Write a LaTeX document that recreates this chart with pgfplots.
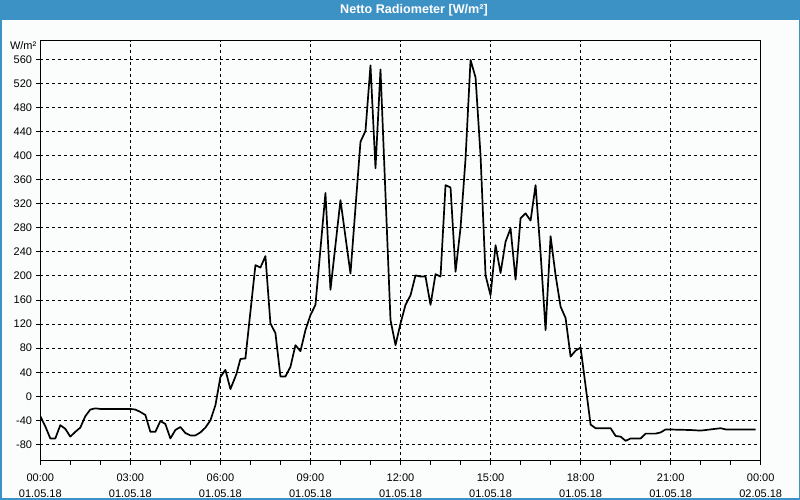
\documentclass[border=0pt]{standalone}
\usepackage{fontspec}
\setmainfont{Liberation Sans}
\usepackage{pgfplots}
\pgfplotsset{compat=1.18}
\definecolor{barblue}{RGB}{61,146,197}
\definecolor{bgc}{RGB}{251,253,252}
\begin{document}
\fontsize{11}{13}\selectfont
\begin{tikzpicture}
\fill[bgc] (0pt,0pt) rectangle (800pt,500pt);
\fill[barblue] (0pt,480pt) rectangle (800pt,500pt);
\draw[barblue,line width=1.5pt] (0.75pt,0.75pt) rectangle (799.25pt,499.25pt);
\node[white,font=\bfseries\fontsize{12.6}{14}\selectfont] at (414pt,490pt) {Netto Radiometer [W/m²]};
\node[anchor=east,inner sep=0pt] at (36.5pt,454pt) {W/m²};
\begin{axis}[
  at={(40.3pt,39pt)}, anchor=south west, scale only axis,
  width=720.4pt, height=420.3pt,
  xmin=0, xmax=1440, ymin=-107.5, ymax=591,
  xtick={0,180,...,1440},
  xticklabels={{00:00\\01.05.18},{03:00\\01.05.18},{06:00\\01.05.18},{09:00\\01.05.18},{12:00\\01.05.18},{15:00\\01.05.18},{18:00\\01.05.18},{21:00\\01.05.18},{00:00\\02.05.18}},
  minor xtick={60,120,240,300,420,480,600,660,780,840,960,1020,1140,1200,1320,1380},
  ytick={-80,-40,...,560},
  /pgf/number format/assume math mode=true,
  xtick pos=bottom, ytick pos=left,
  tick align=outside,
  major tick length=4pt, minor tick length=4pt,
  tick style={black,line width=1pt},
  axis line style={black,line width=1pt},
  grid=major,
  major grid style={black,line width=1pt,dash pattern=on 3pt off 3pt},
  xticklabel style={align=center,inner sep=0pt,yshift=-9pt,font=\fontsize{11}{16}\selectfont},
  yticklabel style={inner sep=0pt,xshift=-4pt,font=\fontsize{11}{13}\selectfont},
  axis background/.style={fill=bgc},
]
\addplot[black,line width=1.7pt,line join=round] coordinates {
(0,-33) (10,-50) (20,-70) (30,-70) (40,-48) (50,-54) (60,-67) (70,-59) (80,-52)
(90,-33) (100,-22) (110,-20) (120,-21) (180,-21) (190,-22) (200,-26) (210,-31)
(220,-59) (230,-59) (240,-41) (250,-46) (260,-70) (270,-56) (280,-51) (290,-61)
(300,-65) (310,-65) (320,-60) (330,-52) (340,-40) (350,-15) (360,32) (370,44)
(380,12) (392,37) (400,62) (410,63) (430,218) (440,214) (450,233) (460,121)
(470,105) (480,33) (490,33) (500,49) (510,85) (520,75) (530,110) (540,135)
(550,152) (570,338) (580,177) (600,326) (620,204) (640,423) (650,441) (660,550)
(670,379) (680,543) (700,127) (710,85) (720,121) (730,152) (740,168) (750,201)
(760,199) (770,199) (780,152) (790,203) (800,199) (810,351) (820,347) (830,207)
(840,280) (850,395) (860,559) (870,530) (880,400) (890,201) (900,168) (910,251)
(920,205) (930,257) (940,279) (950,194) (960,296) (970,304) (980,292) (990,351)
(1000,238) (1010,110) (1020,266) (1030,201) (1040,149) (1050,130) (1060,66)
(1070,76) (1080,81) (1100,-47) (1110,-53) (1140,-53) (1150,-66) (1160,-67)
(1170,-74) (1180,-70) (1200,-70) (1210,-62) (1230,-62) (1240,-60) (1250,-55)
(1300,-56) (1320,-57) (1330,-56) (1360,-53) (1370,-55) (1430,-55)
};
\end{axis}
\end{tikzpicture}
\end{document}
